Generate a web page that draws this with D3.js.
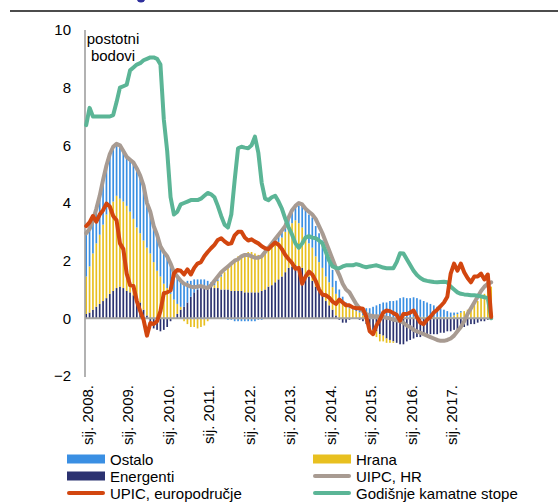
<!DOCTYPE html>
<html>
<head>
<meta charset="utf-8">
<script src="https://cdn.jsdelivr.net/npm/d3@7"></script>
<style>
  body { margin: 0; background: #fff; }
  svg { display: block; font-family: "Liberation Sans", Arial, sans-serif; }
</style>
</head>
<body>
<div id="chart"></div>
<script>
// monthly data, sij. 2008. - sij. 2018.
var yearLabels = ["sij. 2008.", "sij. 2009.", "sij. 2010.", "sij. 2011.", "sij. 2012.",
  "sij. 2013.", "sij. 2014.", "sij. 2015.", "sij. 2016.", "sij. 2017."];

var energenti = [
  0.15, 0.2, 0.3, 0.4, 0.5, 0.6, 0.7, 0.85, 0.95, 1.05,
  1.1, 1.05, 0.95, 0.9, 0.8, 0.7, 0.55, 0.3, 0.1, -0.2,
  -0.35, -0.4, -0.45, -0.4, -0.3, -0.1, 0.0, 0.15, 0.3, 0.4,
  0.55, 0.75, 0.9, 1.0, 1.05, 1.1, 1.1, 1.1, 1.05, 1.05,
  1.0, 1.0, 1.0, 0.95, 0.95, 0.95, 0.95, 0.9, 0.9, 0.9,
  0.9, 0.9, 0.95, 1.0, 1.1, 1.15, 1.25, 1.35, 1.45, 1.6,
  1.75, 1.8, 1.85, 1.8, 1.75, 1.55, 1.45, 1.3, 1.1, 0.95,
  0.8, 0.6, 0.45, 0.3, 0.1, -0.05, -0.15, -0.15, -0.05, 0.0,
  0.0, -0.05, -0.1, -0.2, -0.3, -0.4, -0.45, -0.55, -0.6, -0.7,
  -0.75, -0.8, -0.85, -0.9, -0.9, -0.8, -0.75, -0.7, -0.65, -0.65,
  -0.6, -0.6, -0.55, -0.55, -0.55, -0.5, -0.5, -0.45, -0.45, -0.4,
  -0.4, -0.35, -0.3, -0.25, -0.2, -0.2, -0.15, -0.1, -0.1, -0.05,
  0.0];

var hrana = [
  1.3, 1.6, 1.95, 2.2, 2.4, 2.65, 2.9, 3.0, 3.1, 3.2,
  3.05, 3.0, 2.95, 2.8, 2.65, 2.45, 2.4, 2.4, 2.35, 2.25,
  1.95, 1.65, 1.45, 1.2, 1.05, 0.85, 0.65, 0.35, 0.1, -0.1,
  -0.2, -0.3, -0.3, -0.35, -0.3, -0.25, -0.1, 0.0, 0.1, 0.25,
  0.45, 0.6, 0.8, 1.0, 1.1, 1.2, 1.25, 1.35, 1.4, 1.4,
  1.35, 1.3, 1.25, 1.25, 1.25, 1.3, 1.3, 1.3, 1.35, 1.4,
  1.4, 1.5, 1.55, 1.5, 1.4, 1.25, 1.15, 1.15, 1.05, 1.0,
  0.95, 0.85, 0.8, 0.78, 0.75, 0.7, 0.6, 0.45, 0.35, 0.3,
  0.25, 0.2, 0.1, 0.05, -0.05, -0.15, -0.2, -0.25, -0.2, -0.15,
  -0.1, -0.05, 0.0, 0.05, 0.05, 0.0, 0.0, 0.05, 0.05, 0.05,
  0.05, 0.05, 0.05, 0.05, 0.05, 0.05, 0.05, 0.05, 0.05, 0.1,
  0.15, 0.2, 0.25, 0.3, 0.4, 0.5, 0.6, 0.75, 0.85, 1.0,
  1.1];

var ostalo = [
  1.45, 1.3, 1.15, 1.2, 1.35, 1.55, 1.7, 1.85, 1.9, 1.8,
  1.85, 1.75, 1.7, 1.8, 1.95, 2.05, 2.05, 1.9, 1.55, 1.45,
  1.25, 1.25, 1.05, 1.1, 1.1, 1.05, 0.95, 0.95, 0.85, 0.85,
  0.75, 0.55, 0.45, 0.35, 0.3, 0.25, 0.2, 0.15, 0.1, 0.05,
  0.05, 0.0, -0.05, -0.05, -0.1, -0.1, -0.1, -0.1, -0.1, -0.1,
  -0.1, -0.05, -0.05, 0.0, 0.05, 0.1, 0.2, 0.25, 0.3, 0.3,
  0.35, 0.45, 0.5, 0.6, 0.8, 0.95, 1.0, 1.05, 1.05, 1.0,
  0.95, 0.85, 0.75, 0.6, 0.45, 0.3, 0.15, 0.1, 0.1, 0.1,
  0.15, 0.2, 0.25, 0.3, 0.35, 0.4, 0.45, 0.5, 0.55, 0.55,
  0.6, 0.6, 0.62, 0.65, 0.68, 0.7, 0.7, 0.68, 0.65, 0.6,
  0.55, 0.5, 0.45, 0.4, 0.35, 0.3, 0.25, 0.2, 0.15, 0.1,
  0.05, 0.05, 0, 0, 0, 0, 0, 0, 0, 0,
  0];

var uipcHR = [
  2.95, 3.1, 3.4, 3.8, 4.25, 4.8, 5.3, 5.7, 5.95, 6.05,
  6.0, 5.8, 5.6, 5.5, 5.4, 5.2, 4.95, 4.6, 4.0, 3.7,
  3.2, 2.9, 2.5, 2.3, 2.15, 1.9, 1.6, 1.45, 1.3, 1.2,
  1.15, 1.1, 1.08, 1.1, 1.12, 1.08, 1.05, 1.15, 1.3, 1.45,
  1.6, 1.7, 1.8, 1.9, 2.0, 2.05, 2.15, 2.2, 2.2, 2.15,
  2.1, 2.1, 2.15, 2.3, 2.45, 2.6, 2.75, 2.9, 3.05, 3.2,
  3.5, 3.75, 3.9, 4.0, 3.95, 3.8, 3.7, 3.6, 3.45, 3.2,
  2.95, 2.65, 2.35, 2.05, 1.75, 1.5, 1.2, 1.0, 0.9, 0.7,
  0.5, 0.35, 0.25, 0.15, 0.1, 0.08, 0.07, 0.06, 0.05, 0.02,
  0.0, -0.05, -0.07, -0.1, -0.15, -0.25, -0.3, -0.4, -0.45, -0.5,
  -0.55, -0.6, -0.65, -0.7, -0.75, -0.78, -0.78, -0.75, -0.7, -0.6,
  -0.45, -0.3, -0.1, 0.15, 0.35, 0.55, 0.75, 0.95, 1.1, 1.2,
  1.25];

var upicEA = [
  3.2, 3.33, 3.55, 3.35, 3.6, 3.75, 3.98, 3.88, 3.55, 3.4,
  2.6, 2.4, 1.55, 1.15, 1.12, 0.6, 0.25, -0.05, -0.6, -0.16,
  -0.2, -0.1, 0.25, 0.87, 0.9, 0.97, 1.56, 1.68, 1.65, 1.52,
  1.7, 1.52, 1.75, 1.9, 1.95, 2.15, 2.3, 2.43, 2.55, 2.72,
  2.78, 2.67, 2.58, 2.6, 2.88, 3.0, 3.0, 2.8, 2.7, 2.74,
  2.66, 2.6, 2.5, 2.43, 2.4, 2.52, 2.63, 2.55, 2.4, 2.2,
  2.05, 1.92, 1.72, 1.75, 1.2, 1.45, 1.62, 1.52, 1.3, 1.0,
  0.82, 0.8, 0.72, 0.58, 0.5, 0.65, 0.55, 0.45, 0.45, 0.38,
  0.35, 0.35, 0.33, 0.05, -0.45, -0.55, -0.25, -0.05, 0.2, 0.27,
  0.25, 0.18, 0.12, -0.08, 0.15, 0.15, 0.2, 0.27, 0.05, -0.15,
  -0.2, -0.05, 0.05, 0.2, 0.3, 0.42, 0.55, 0.75, 1.55, 1.9,
  1.65, 1.9, 1.6, 1.4, 1.25, 1.45, 1.45, 1.55, 1.35, 1.52,
  0.05];

var kamatne = [
  6.7, 7.3, 7.0, 7.0, 7.0, 7.0, 7.0, 7.0, 7.05, 7.5,
  8.0, 8.05, 8.1, 8.6, 8.7, 8.8, 8.85, 8.95, 9.0, 9.05,
  9.05, 9.0, 8.8, 6.9, 5.8, 4.2, 3.6, 3.7, 3.95, 4.0,
  4.05, 4.1, 4.1, 4.1, 4.15, 4.25, 4.35, 4.3, 4.2, 3.9,
  3.55, 3.25, 3.15, 3.6, 4.8, 5.9, 5.95, 5.92, 5.9, 6.0,
  6.3, 5.75, 4.7, 4.15, 4.1, 4.2, 4.25, 4.05, 3.8, 3.45,
  3.15, 2.9, 2.6, 2.45, 2.6, 2.8, 2.85, 2.8, 2.78, 2.7,
  2.6, 2.3, 2.0, 1.8, 1.75, 1.74, 1.8, 1.84, 1.84, 1.84,
  1.88, 1.85, 1.8, 1.77, 1.8, 1.82, 1.84, 1.8, 1.76, 1.74,
  1.74, 1.74, 1.95, 2.26, 2.25, 2.05, 1.85, 1.65, 1.5, 1.4,
  1.33, 1.3, 1.28, 1.26, 1.25, 1.26, 1.27, 1.25, 1.1, 1.0,
  0.9, 0.85, 0.83, 0.82, 0.8, 0.8, 0.78, 0.76, 0.73, 0.7,
  0.0];

var yTicks = [-2, 0, 2, 4, 6, 8, 10];

var colors = {
  energenti: "#2b3270",
  hrana: "#e8c020",
  ostalo: "#3a8fe3",
  uipc: "#a89b92",
  upic: "#d2460f",
  kamatne: "#5bb596"
};

var svgWidth = 558;
var svgHeight = 502;

var svg = d3.select("#chart")
  .append("svg")
  .attr("width", svgWidth)
  .attr("height", svgHeight);

// table for the stack
var rows = energenti.map(function(d, i) {
  return { i: i, energenti: d, hrana: hrana[i], ostalo: ostalo[i] };
});

var x = d3.scaleBand()
  .domain(d3.range(energenti.length))
  .range([84.5, 84.5 + energenti.length * 3.375])
  .paddingInner(0.5)
  .paddingOuter(0.25);

var y = d3.scaleLinear()
  .domain([-2, 10])
  .range([376, 30]);

var xc = function(i) { return x(i) + x.bandwidth() / 2; };

// top rule + leftover marker from the title
svg.append("line")
  .attr("x1", 10).attr("x2", 558)
  .attr("y1", 11).attr("y2", 11)
  .attr("stroke", "#111")
  .attr("stroke-width", 1.3);

svg.append("circle")
  .attr("cx", 141).attr("cy", -2)
  .attr("r", 4.5)
  .attr("fill", "#2e2f9c");

// stacked bars
var stack = d3.stack()
  .keys(["energenti", "hrana", "ostalo"])
  .offset(d3.stackOffsetDiverging);

var series = stack(rows);

svg.append("g")
  .selectAll("g")
  .data(series)
  .enter()
  .append("g")
  .attr("fill", d => colors[d.key])
  .selectAll("rect")
  .data(d => d)
  .enter()
  .append("rect")
  .attr("x", (d, i) => x(i))
  .attr("width", x.bandwidth())
  .attr("y", d => y(Math.max(d[0], d[1])))
  .attr("height", d => Math.abs(y(d[0]) - y(d[1])));

// y axis
var yAxis = svg.append("g")
  .attr("transform", "translate(85,0)")
  .call(d3.axisLeft(y).tickValues(yTicks).tickSize(0).tickPadding(14));

yAxis.select(".domain").remove();
yAxis.selectAll("text")
  .style("font-size", "15px")
  .style("font-family", "Liberation Sans, Arial, sans-serif")
  .attr("fill", "#000");

svg.append("line")
  .attr("x1", 85).attr("x2", 85)
  .attr("y1", 30).attr("y2", 377)
  .attr("stroke", "#999")
  .attr("stroke-width", 1.5);

// zero line
svg.append("line")
  .attr("x1", 85).attr("x2", xc(energenti.length - 1))
  .attr("y1", y(0)).attr("y2", y(0))
  .attr("stroke", "#a3a3a3")
  .attr("stroke-width", 2);

// x axis labels (January of each year)
var xAxis = svg.append("g")
  .attr("transform", "translate(1.5,385)")
  .call(d3.axisBottom(x)
    .tickValues(yearLabels.map((d, k) => k * 12))
    .tickSize(0)
    .tickFormat((d, k) => yearLabels[k]));

xAxis.select(".domain").remove();
xAxis.selectAll("text")
  .style("font-size", "15px")
  .style("font-family", "Liberation Sans, Arial, sans-serif")
  .attr("fill", "#000")
  .attr("text-anchor", "end")
  .attr("transform", "rotate(-90)")
  .attr("x", 0)
  .attr("y", 0)
  .attr("dy", "0.35em");

// lines
var lineGen = d3.line()
  .x((d, i) => xc(i))
  .y(d => y(d));

function addLine(values, color) {
  svg.append("path")
    .datum(values)
    .attr("fill", "none")
    .attr("stroke", color)
    .attr("stroke-width", 4)
    .attr("stroke-linejoin", "round")
    .attr("stroke-linecap", "round")
    .attr("d", lineGen);
}

addLine(uipcHR, colors.uipc);
addLine(kamatne, colors.kamatne);
addLine(upicEA, colors.upic);

// axis unit label
svg.append("text")
  .attr("x", 113).attr("y", 44)
  .attr("text-anchor", "middle")
  .style("font-size", "15px")
  .text("postotni");
svg.append("text")
  .attr("x", 113).attr("y", 61)
  .attr("text-anchor", "middle")
  .style("font-size", "15px")
  .text("bodovi");

// legend
var legendItems = [
  { name: "Ostalo", color: colors.ostalo, type: "rect", x: 67, row: 0 },
  { name: "Energenti", color: colors.energenti, type: "rect", x: 67, row: 1 },
  { name: "UPIC, europodručje", color: colors.upic, type: "line", x: 67, row: 2 },
  { name: "Hrana", color: colors.hrana, type: "rect", x: 313, row: 0 },
  { name: "UIPC, HR", color: colors.uipc, type: "line", x: 313, row: 1 },
  { name: "Godišnje kamatne stope", color: colors.kamatne, type: "line", x: 313, row: 2 }
];

var legend = svg.append("g");

legendItems.forEach(function(item) {
  var cy = 459 + item.row * 17;
  if (item.type === "rect") {
    legend.append("rect")
      .attr("x", item.x).attr("y", cy - 4.5)
      .attr("width", 38).attr("height", 9)
      .attr("fill", item.color);
  } else {
    legend.append("line")
      .attr("x1", item.x + 2).attr("x2", item.x + 36)
      .attr("y1", cy).attr("y2", cy)
      .attr("stroke", item.color)
      .attr("stroke-width", 4)
      .attr("stroke-linecap", "round");
  }
  legend.append("text")
    .attr("x", item.x + 43).attr("y", cy + 5.5)
    .style("font-size", "15px")
    .attr("fill", "#000")
    .text(item.name);
});
</script>
</body>
</html>
